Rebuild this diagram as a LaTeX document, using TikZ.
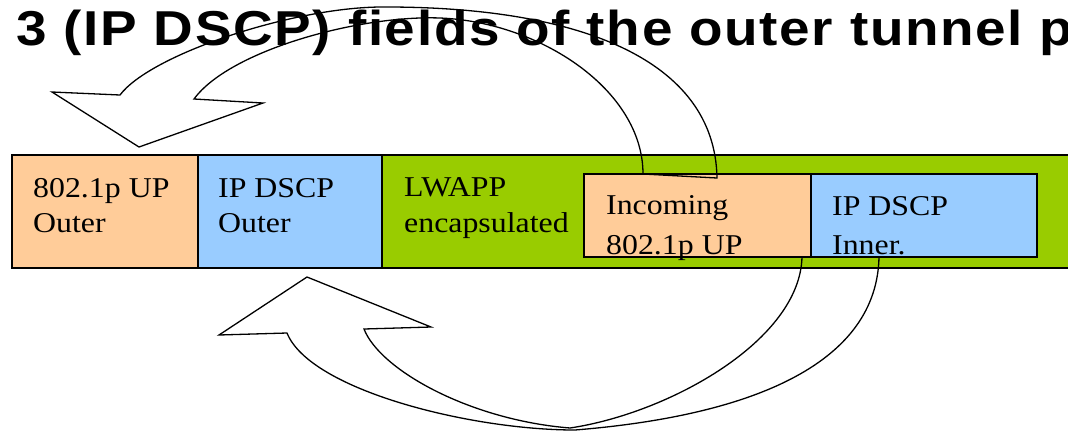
\documentclass[tikz,border=0pt]{standalone}
\usepackage{fontspec}
\setmainfont{Liberation Serif}
\newfontfamily\titlefont[LetterSpace=3]{Liberation Sans}
\newfontfamily\labelfont{Liberation Serif}
\newcommand{\widetext}[2]{\scalebox{#1}[1]{#2}}
\definecolor{peach}{HTML}{FFCC99}
\definecolor{sky}{HTML}{99CCFF}
\definecolor{leaf}{HTML}{99CC00}
\begin{document}
\begin{tikzpicture}[x=1bp,y=-1bp,
  field/.style={draw=black, line width=1.5bp, anchor=north west,
    inner sep=0pt, outer sep=0pt},
  lbl/.style={anchor=base west, inner sep=0pt,
    font=\labelfont\fontsize{28.7bp}{34bp}\selectfont},
  heading/.style={anchor=base west, inner sep=0pt,
    font=\titlefont\bfseries\fontsize{49bp}{58bp}\selectfont},
  blockarrow/.style={draw=black, line width=1.3bp, line join=miter}]
\useasboundingbox (0,0) rectangle (1068,431);
\clip (0,0) rectangle (1068,431);
\fill[white] (0,0) rectangle (1068,431);

% heading line
\node[heading] (title) at (16,45) {\widetext{1.12}{3 (IP DSCP) fields of the outer tunnel p}};

% packet bar and its fields
\node[field, fill=leaf,  minimum width=1100bp, minimum height=113bp] (bar) at (12,155) {};
\node[field, fill=peach, minimum width=186bp, minimum height=113bp] (upout) at (12,155) {};
\node[field, fill=sky,   minimum width=184bp, minimum height=113bp] (dsout) at (198,155) {};
\node[field, fill=peach, minimum width=227bp, minimum height=83bp]  (upin)  at (584,174) {};
\node[field, fill=sky,   minimum width=226bp, minimum height=83bp]  (dsin)  at (811,174) {};

% field labels
\node[lbl] (upA) at (33,197)  {\widetext{1.11}{802.1p UP}};
\node[lbl] (upB) at (33,232)  {\widetext{1.11}{Outer}};
\node[lbl] (dsA) at (218,197) {\widetext{1.11}{IP DSCP}};
\node[lbl] (dsB) at (218,232) {\widetext{1.11}{Outer}};
\node[lbl] (lwA) at (404,196) {\widetext{1.11}{LWAPP}};
\node[lbl] (lwB) at (404,232) {\widetext{1.11}{encapsulated}};
\node[lbl] (inA) at (606,214) {\widetext{1.11}{Incoming}};
\node[lbl] (inB) at (606,254) {\widetext{1.11}{802.1p UP}};
\node[lbl] (idA) at (832,215) {\widetext{1.11}{IP DSCP}};
\node[lbl] (idB) at (832,254) {\widetext{1.11}{Inner.}};

% upper curved block arrow: inner 802.1p UP -> outer 802.1p UP
\coordinate (tA) at (139,147);
\coordinate (tB) at (52,92);
\coordinate (tC) at (120,95);
\coordinate (tTop) at (380,7);
\coordinate (tD) at (717,178);
\coordinate (tE) at (643,174);
\coordinate (tIn) at (440,18);
\coordinate (tF) at (194,99);
\coordinate (tG) at (263,103);
\draw[blockarrow] (tA) -- (tB) -- (tC)
  .. controls (150,55) and (290,8) .. (tTop)
  .. controls (580,6) and (715,60) .. (tD) -- (tE)
  .. controls (643,90) and (540,22) .. (tIn)
  .. controls (360,15) and (230,50) .. (tF) -- (tG) -- cycle;

% lower curved block arrow: inner IP DSCP -> outer IP DSCP
\coordinate (bP) at (307,277);
\coordinate (bQ) at (431,327);
\coordinate (bR) at (364,329);
\coordinate (bLowA) at (570,428);
\coordinate (bS) at (802,257);
\coordinate (bT) at (879,257);
\coordinate (bLowB) at (575,430);
\coordinate (bU) at (287,333);
\coordinate (bV) at (219,335);
\draw[blockarrow] (bP) -- (bQ) -- (bR)
  .. controls (380,370) and (470,420) .. (bLowA)
  .. controls (670,413) and (800,340) .. (bS) -- (bT)
  .. controls (877,360) and (760,415) .. (bLowB)
  .. controls (470,430) and (310,390) .. (bU) -- (bV) -- cycle;
\end{tikzpicture}
\end{document}
